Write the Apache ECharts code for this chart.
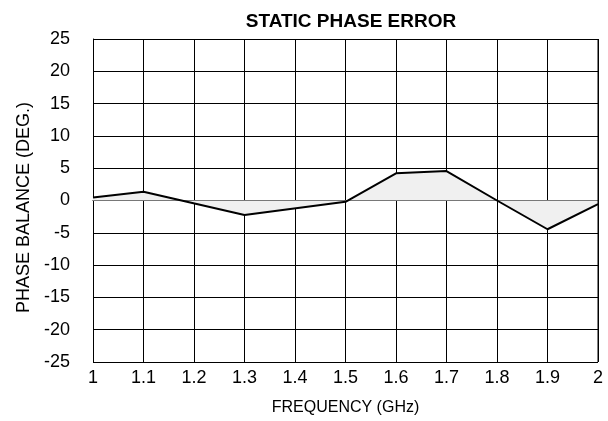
<!DOCTYPE html>
<html>
<head>
<meta charset="utf-8">
<script src="https://cdn.jsdelivr.net/npm/echarts@6/dist/echarts.min.js"></script>
<style>
  html, body { margin: 0; padding: 0; background: #fff; }
  #chart { width: 608px; height: 421px; }
</style>
</head>
<body>
<div id="chart"></div>
<script>
var freqs = [1, 1.1, 1.3, 1.5, 1.6, 1.7, 1.8, 1.9, 2];
var phase = [0.45, 1.35, -2.25, -0.2, 4.2, 4.55, 0, -4.45, -0.55];
var xTicks = { min: 1, max: 2, step: 0.1 };
var yTicks = { min: -25, max: 25, step: 5 };

var font = '"Liberation Sans", Arial, sans-serif';

var chart = echarts.init(document.getElementById('chart'));
var option = {
  backgroundColor: '#fff',
  animation: false,
  title: {
    text: 'STATIC PHASE ERROR',
    left: 346,
    textAlign: 'center',
    top: 7,
    textStyle: { fontFamily: font, fontWeight: 'bold', fontSize: 19, color: '#000' }
  },
  grid: { left: 93, right: 10, top: 39, bottom: 59, containLabel: false, outerBoundsMode: 'none' },
  xAxis: {
    type: 'value',
    min: xTicks.min, max: xTicks.max, interval: xTicks.step,
    name: 'FREQUENCY (GHz)',
    nameLocation: 'middle',
    nameGap: 38,
    nameTextStyle: { fontFamily: font, fontSize: 16, color: '#000' },
    axisLine: { show: true, lineStyle: { color: '#000', width: 1 } },
    axisTick: { show: false },
    axisLabel: { fontFamily: font, fontSize: 18, color: '#000', margin: 7,
      formatter: function (v) { return String(Math.round(v * 10) / 10); } },
    splitLine: { show: true, lineStyle: { color: '#000', width: 1 } }
  },
  yAxis: {
    type: 'value',
    min: yTicks.min, max: yTicks.max, interval: yTicks.step,
    name: 'PHASE BALANCE (DEG.)',
    nameLocation: 'middle',
    nameGap: 60,
    nameTextStyle: { fontFamily: font, fontSize: 18, color: '#000', padding: [0, 14, 0, 0] },
    axisLine: { show: true, lineStyle: { color: '#000', width: 1 } },
    axisTick: { show: false },
    axisLabel: { fontFamily: font, fontSize: 18, color: '#000', margin: 23 },
    splitLine: { show: true, lineStyle: { color: '#000', width: 1 } }
  },
  series: [{
    type: 'line',
    data: freqs.map(function (f, i) { return [f, phase[i]]; }),
    symbol: 'none',
    lineStyle: { color: '#000', width: 2 },
    areaStyle: { color: '#f0f0f0', opacity: 1, origin: 0 },
    z: 3
  }, {
    // right-hand border of the plot frame
    type: 'line',
    data: [[2, -25], [2, 25]],
    symbol: 'none',
    lineStyle: { color: '#000', width: 1 },
    silent: true
  }]
};
chart.setOption(option);
</script>
</body>
</html>
